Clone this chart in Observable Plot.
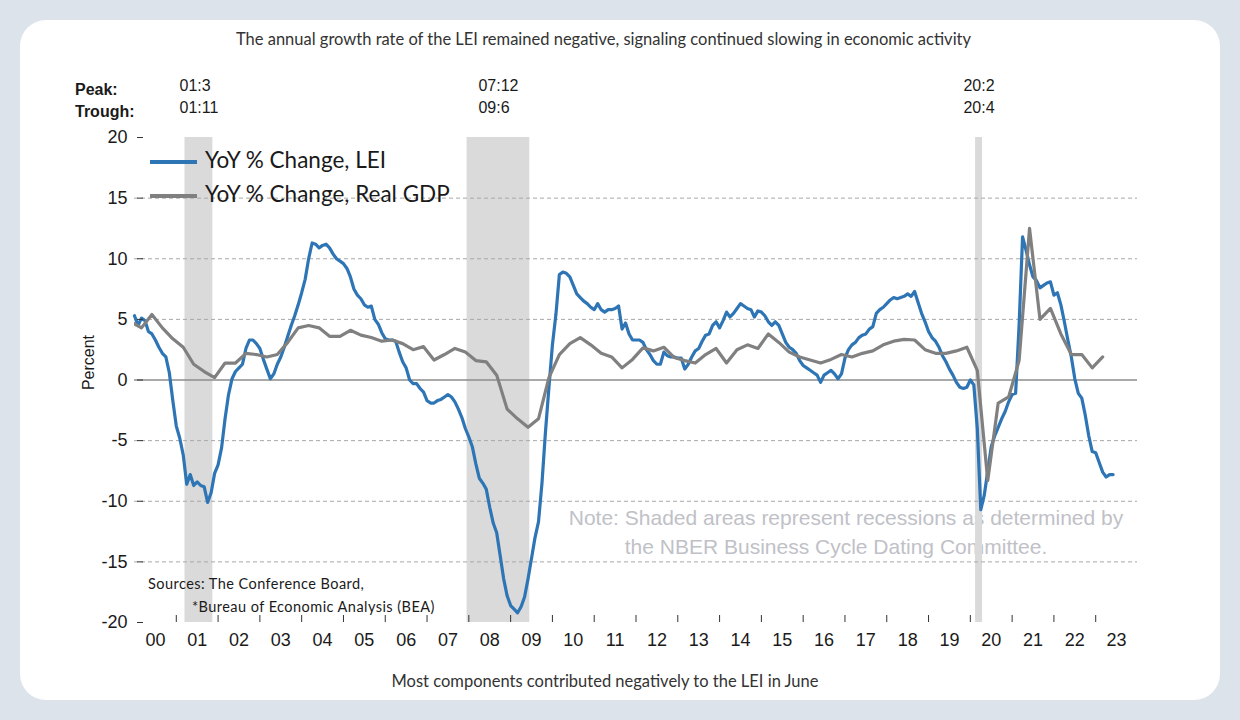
<!DOCTYPE html>
<html>
<head>
<meta charset="utf-8">
<script src="https://cdn.jsdelivr.net/npm/d3@7"></script>
<script src="https://cdn.jsdelivr.net/npm/@observablehq/plot@0.6"></script>
<style>
  html, body { margin: 0; padding: 0; background: #dde3eb; }
  #page { position: relative; width: 1240px; height: 720px; overflow: hidden; }
  #card { position: absolute; left: 20px; top: 20px; width: 1200px; height: 680px; background: #ffffff; border-radius: 26px; }
  #chart { position: absolute; left: 0; top: 0; }
</style>
</head>
<body>
<div id="page"><div id="card"></div><div id="chart"></div></div>
<script>
// Monthly year-over-year % change of the Leading Economic Index, Jan 2000 – Jun 2023
const leiFirstYear = 2000;
const leiYoY = [
  5.3, 4.5, 5.1, 4.9, 4.0, 3.8, 3.3, 2.7, 2.2, 1.9, 0.6, -1.7,          // 2000
  -3.8, -4.8, -6.2, -8.6, -7.8, -8.7, -8.4, -8.7, -8.8, -10.1, -9.3, -7.7, // 2001
  -7.0, -5.6, -3.2, -1.2, 0.1, 0.7, 1.0, 1.3, 2.6, 3.3, 3.3, 3.0,        // 2002
  2.6, 1.7, 0.9, 0.1, 0.5, 1.3, 1.9, 2.7, 3.6, 4.5, 5.3, 6.2,            // 2003
  7.2, 8.3, 10.0, 11.3, 11.2, 10.9, 11.1, 11.2, 10.9, 10.4, 10.0, 9.8,   // 2004
  9.6, 9.2, 8.5, 7.5, 7.0, 6.7, 6.2, 6.0, 6.1, 5.0, 4.6, 3.9,            // 2005
  3.4, 3.3, 3.3, 3.2, 2.3, 1.5, 1.0, 0.0, -0.3, -0.3, -0.7, -1.0,        // 2006
  -1.7, -1.9, -1.9, -1.7, -1.6, -1.4, -1.2, -1.4, -1.8, -2.4, -3.1, -4.0, // 2007
  -4.7, -5.5, -6.9, -8.1, -8.5, -9.0, -10.5, -11.8, -12.6, -14.5, -16.4, -17.8, // 2008
  -18.6, -18.9, -19.2, -18.7, -17.9, -16.4, -14.7, -13.0, -11.7, -8.5, -4.3, -0.6, // 2009
  2.9, 5.4, 8.7, 8.9, 8.8, 8.5, 7.8, 7.1, 6.8, 6.5, 6.3, 6.0,            // 2010
  5.8, 6.3, 5.8, 5.6, 5.8, 5.8, 5.9, 6.1, 4.2, 4.7, 3.8, 3.3,            // 2011
  3.3, 3.3, 3.1, 2.5, 2.1, 1.6, 1.3, 1.3, 2.3, 2.0, 1.9, 1.9,            // 2012
  1.8, 1.8, 0.9, 1.3, 1.9, 2.4, 2.6, 3.2, 3.7, 3.8, 4.5, 4.8,            // 2013
  4.3, 4.9, 5.6, 5.2, 5.5, 5.9, 6.3, 6.1, 5.9, 5.8, 5.2, 5.7,            // 2014
  5.6, 5.3, 4.8, 4.5, 4.8, 4.5, 3.8, 3.1, 2.7, 2.5, 2.2, 1.6,            // 2015
  1.2, 1.0, 0.8, 0.6, 0.4, -0.2, 0.4, 0.6, 0.8, 0.5, 0.1, 0.5,           // 2016
  1.8, 2.5, 2.9, 3.1, 3.5, 3.7, 3.8, 4.2, 4.4, 5.5, 5.8, 6.0,            // 2017
  6.3, 6.6, 6.8, 6.7, 6.8, 6.9, 7.1, 6.9, 7.3, 6.4, 5.5, 4.8,            // 2018
  4.0, 3.5, 3.2, 2.7, 2.0, 1.5, 0.9, 0.4, -0.2, -0.6, -0.7, -0.6,        // 2019
  0.0, -0.4, -4.0, -10.7, -9.5, -7.5, -5.5, -4.6, -3.9, -3.2, -2.6, -1.8, // 2020
  -1.2, -1.1, 4.5, 11.8, 10.7, 9.5, 8.5, 8.2, 7.6, 7.8, 8.0, 8.1,        // 2021
  7.0, 7.2, 6.2, 4.8, 3.3, 1.9, 0.1, -1.1, -1.5, -2.9, -4.6, -5.9,       // 2022
  -6.0, -6.8, -7.6, -8.0, -7.8, -7.8                                     // 2023
];

// Quarterly year-over-year % change of real GDP, 1999 Q4 – 2023 Q1
const gdpFirstQuarter = [1999, 4];
const gdpYoY = [
  4.8,                      // 1999
  4.3, 5.4, 4.3, 3.4,       // 2000
  2.7, 1.3, 0.7, 0.2,       // 2001
  1.4, 1.4, 2.2, 2.1,       // 2002
  1.9, 2.1, 3.1, 4.3,       // 2003
  4.5, 4.3, 3.6, 3.6,       // 2004
  4.1, 3.7, 3.5, 3.2,       // 2005
  3.3, 3.0, 2.5, 2.75,      // 2006
  1.65, 2.1, 2.6, 2.3,      // 2007
  1.6, 1.5, 0.4, -2.4,      // 2008
  -3.2, -3.9, -3.2, 0.2,    // 2009
  2.1, 3.0, 3.5, 2.9,       // 2010
  2.2, 1.9, 1.0, 1.7,       // 2011
  2.65, 2.4, 2.7, 1.85,     // 2012
  1.6, 1.4, 2.1, 2.6,       // 2013
  1.4, 2.5, 2.9, 2.6,       // 2014
  3.8, 3.1, 2.3, 1.9,       // 2015
  1.65, 1.4, 1.7, 2.1,      // 2016
  1.9, 2.2, 2.4, 2.9,       // 2017
  3.2, 3.35, 3.3, 2.5,      // 2018
  2.2, 2.2, 2.4, 2.7,       // 2019
  0.8, -8.3, -1.9, -1.4,    // 2020
  1.6, 12.5, 5.0, 5.9,      // 2021
  3.8, 2.1, 2.1, 1.0,       // 2022
  1.9                       // 2023
];

// NBER business-cycle peaks and troughs [year, month]
const recessionPeak = [[2001, 3], [2007, 12], [2020, 2]];
const recessionTrough = [[2001, 11], [2009, 6], [2020, 4]];

// Axis ticks and labels
const yTicks = [-20, -15, -10, -5, 0, 5, 10, 15, 20];
const gridLevels = [-15, -10, -5, 5, 10, 15];
const yearLabels = ["00","01","02","03","04","05","06","07","08","09","10","11",
                    "12","13","14","15","16","17","18","19","20","21","22","23"];

(function draw() {
  // ---- derived tables ----
  const lei = leiYoY.map((v, i) => ({t: leiFirstYear + i / 12, v}));
  const q0 = gdpFirstQuarter[0] * 4 + gdpFirstQuarter[1] - 1;
  const gdp = gdpYoY.map((v, i) => {
    const q = q0 + i, y = Math.floor(q / 4), qq = (q % 4) + 1;
    return {t: y + (3 * qq - 1) / 12, v};
  });

  const monthPos = ([y, m]) => y + (m - 0.5) / 12;
  const ym = ([y, m]) => String(y).slice(2) + ":" + m;
  const measure = document.createElement("canvas").getContext("2d");
  measure.font = "16px 'Liberation Sans'";
  const recessions = recessionPeak.map((p, i) => {
    const tr = recessionTrough[i];
    const a = ym(p), b = ym(tr);
    const w = Math.max(measure.measureText(a).width, measure.measureText(b).width);
    return {start: monthPos(p), end: monthPos(tr), mid: (monthPos(p) + monthPos(tr)) / 2, label: a + "\n" + b, half: w / 2};
  });

  const yearStarts = d3.range(2001, 2024);
  const yearMids = d3.range(2000, 2024).map(y => y + 0.5);

  const chart = Plot.plot({
    width: 1240,
    height: 720,
    marginTop: 137,
    marginBottom: 98,
    marginLeft: 134,
    marginRight: 103,
    style: {background: "transparent", fontFamily: "'Liberation Sans', Arial, sans-serif", fontSize: "18px", color: "#1a1a1a", overflow: "visible"},
    x: {domain: [2000, 2024]},
    y: {domain: [-20, 20]},
    marks: [
      Plot.rect(recessions, {x1: "start", x2: "end", fill: "#dadada"}),
      Plot.ruleY(gridLevels, {stroke: "#a8a8a8", strokeWidth: 1, strokeDasharray: "4,3"}),
      Plot.ruleY([0], {stroke: "#8c8c8c", strokeWidth: 1.6}),
      Plot.line(lei, {x: "t", y: "v", stroke: "#2e75b6", strokeWidth: 3.2}),
      Plot.line(gdp, {x: "t", y: "v", stroke: "#808080", strokeWidth: 3.2, clip: true}),
      Plot.axisY(yTicks, {tickSize: 6, tickPadding: 10, dx: 9, fontSize: 18, tickFormat: d => String(d), label: null, stroke: "#333"}),
      Plot.axisX(yearStarts, {tickSize: 7, dy: -7, tickFormat: () => "", label: null, stroke: "#333"}),
      Plot.axisX(yearMids, {tickSize: 0, tickPadding: 11, fontSize: 18, tickFormat: d => yearLabels[Math.floor(d) - 2000], label: null}),
      ...recessions.map(r => Plot.text([r], {
        x: "mid", text: "label", frameAnchor: "top", textAnchor: "start", lineAnchor: "bottom",
        lineHeight: 1.36, dy: -25, dx: -r.half, fontSize: 16, fill: "#1a1a1a"
      }))
    ]
  });
  document.getElementById("chart").appendChild(chart);

  // ---- annotations: title, legend, notes ----
  const svg = d3.select(chart);
  function label(sel, x, y, txt, attrs) {
    const t = sel.append("text").attr("x", x).attr("y", y).attr("text-anchor", "start").text(txt);
    Object.entries(attrs || {}).forEach(([k, v]) => t.attr(k, v));
    return t;
  }

  // recession note sits beneath the data
  const under = svg.insert("g", "g");
  const noteStyle = {"font-family": "'Liberation Sans', Arial, sans-serif", "font-size": 21, fill: "#c0c1c7", "text-anchor": "middle"};
  label(under, 846, 525, "Note: Shaded areas represent recessions as determined by", noteStyle);
  label(under, 836, 554, "the NBER Business Cycle Dating Committee.", noteStyle);

  const over = svg.append("g");
  const heading = {"font-family": "Lato, sans-serif", "font-size": 16.5, fill: "#333", "text-anchor": "middle"};
  label(over, 603.5, 45, "The annual growth rate of the LEI remained negative, signaling continued slowing in economic activity", heading);
  label(over, 605, 687, "Most components contributed negatively to the LEI in June", heading);

  const bold = {"font-family": "'Liberation Sans', Arial, sans-serif", "font-size": 16, "font-weight": "bold", fill: "#1a1a1a"};
  label(over, 75, 95, "Peak:", bold);
  label(over, 75, 116.5, "Trough:", bold);

  label(over, 94, 362.5, "Percent", {"font-family": "'Liberation Sans', Arial, sans-serif", "font-size": 16, fill: "#1a1a1a",
    "text-anchor": "middle", transform: "rotate(-90 94 362.5)"});

  // legend
  const legend = [
    {name: "YoY % Change, LEI", color: "#2e75b6", y: 162, base: 167.5},
    {name: "YoY % Change, Real GDP", color: "#808080", y: 196, base: 202}
  ];
  legend.forEach(d => {
    over.append("line").attr("x1", 150).attr("x2", 197).attr("y1", d.y).attr("y2", d.y)
      .attr("stroke", d.color).attr("stroke-width", 4);
    label(over, 205, d.base, d.name, {"font-family": "Lato, sans-serif", "font-size": 22.5, fill: "#1a1a1a"});
  });

  // sources
  const src = {"font-family": "Lato, sans-serif", "font-size": 14.5, fill: "#1a1a1a", "letter-spacing": 0.45};
  label(over, 148, 589, "Sources: The Conference Board,", src);
  label(over, 192, 612, "*Bureau of Economic Analysis (BEA)", src);
})();
</script>
</body>
</html>
